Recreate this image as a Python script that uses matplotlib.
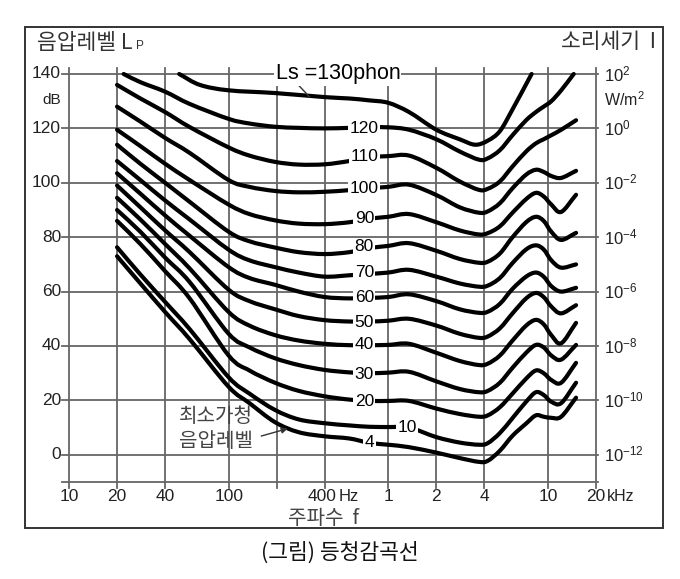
import matplotlib
matplotlib.use("Agg")
import matplotlib.pyplot as plt
from matplotlib.path import Path
from matplotlib.patches import PathPatch
import numpy as np

plt.rcParams['font.family'] = ['Liberation Sans', 'Noto Sans CJK KR', 'DejaVu Sans']
plt.rcParams['mathtext.fontset'] = 'custom'
plt.rcParams['mathtext.rm'] = 'Liberation Sans'
plt.rcParams['mathtext.it'] = 'Liberation Sans'

# ---------------- data ----------------
f_130 = [49, 66, 100, 195, 400, 570, 760, 1000, 1350, 2000, 2800, 3500, 4200, 5000, 6000, 7900]
db_130 = [140, 136, 134, 133, 131.5, 131, 130.3, 129.4, 126, 119.5, 116, 114, 115.5, 119, 127, 140]

f_120 = [22, 28, 40, 57, 100, 135, 195, 275, 400, 570, 760, 1000, 1350, 2000, 2800, 3700, 4200, 5000, 6000, 7300, 8400, 9400, 10500, 12100, 14500]
db_120 = [140, 137, 133.5, 129, 123.5, 121.8, 120.6, 120.2, 120, 120.2, 120.4, 120.4, 119.5, 116, 111.5, 108.5, 109, 112, 117.5, 123, 126, 128, 130, 134, 140]

f_std = [20, 28, 40, 57, 100, 135, 195, 275, 400, 570, 760, 1000, 1350, 2000, 2800, 3700, 4200, 5000, 6000, 7300, 8400, 9400, 10500, 12100, 15000]
db_110 = [136, 131, 126, 120.5, 113, 110, 107.7, 106.7, 106.8, 108, 109.4, 109.8, 110, 105.5, 100.5, 97.4, 97.8, 100.5, 106, 111.5, 114.5, 116, 117.5, 119.5, 123]
db_100 = [128, 122.5, 116.5, 111, 101, 98.5, 97, 96.5, 96.7, 97.3, 98, 98.5, 99.3, 95.5, 91, 89, 89.5, 92.5, 98, 103, 104.8, 104, 102.5, 101.8, 104.4]
db_90 = [119.5, 113.5, 107, 101, 92, 88.5, 86.2, 85, 84.8, 85.5, 86.8, 87.5, 88.5, 85.5, 82.5, 81, 81.5, 84, 89, 94, 96.3, 95, 92, 89.3, 95.6]
db_80 = [114, 107, 100, 93, 82, 78.5, 76.2, 74.5, 73.8, 74.5, 76, 76.8, 77.8, 75, 72, 70.6, 71, 74, 80, 85.5, 87.5, 86, 82, 79, 81.6]
db_70 = [108, 101, 93.5, 86.5, 75.4, 71.5, 69, 67, 65.5, 66, 66.5, 67, 68, 65.5, 63, 61.8, 62.2, 65, 70.5, 75.5, 77, 75.5, 71.5, 68.8, 70]
db_60 = [103.5, 96, 88, 80.5, 69, 65, 62.5, 60, 58, 57.5, 57.7, 58, 59, 56.5, 53.5, 52.2, 52.6, 55.5, 61, 65.5, 67, 65.5, 62, 60, 61.4]
db_50 = [99, 91, 82.5, 74.5, 60.7, 56.5, 53.5, 51, 49.5, 49, 49, 49.3, 50, 47.5, 44.5, 43, 43.5, 46.5, 52, 57.5, 59.5, 58, 54.5, 52, 55]
db_40 = [94.5, 86.5, 77.5, 68.5, 52.5, 47.5, 44, 42, 40.8, 40.3, 40.3, 40.4, 40.8, 37.5, 34.5, 33, 33.5, 36.5, 42, 47.5, 49.6, 48, 44, 41, 48.5]
db_30 = [90, 82, 72.5, 63.5, 44.5, 39.5, 35.5, 33, 31.2, 30.3, 30, 30.2, 30.5, 27, 24.2, 23, 23.5, 26.5, 32, 37.5, 40.4, 39.5, 36.5, 35, 40.4]
db_20 = [86, 77.5, 67.5, 57.5, 36.5, 31, 26.5, 23.5, 21.5, 20.3, 19.8, 19.8, 19.8, 17, 15, 14, 14.5, 17.5, 22.5, 28, 31, 30, 27.5, 26.5, 33.8]
db_10 = [76.3, 66.3, 56.2, 46.2, 28.5, 22.5, 16.5, 13, 11.6, 10.8, 10.3, 10.2, 10, 6.5, 4.5, 3.7, 4.3, 8, 13.5, 19.5, 23, 22, 19.5, 19, 26.5]
db_4 = [73, 63, 52.5, 42.5, 25, 19, 12, 8.3, 6.8, 6, 4.4, 3.7, 2.8, 0.8, -1.2, -2.6, -2.2, 1.5, 7, 11.5, 14.5, 14, 13.6, 14, 21]

phon_labels = ['120', '110', '100', '90', '80', '70', '60', '50', '40', '30', '20']
phon_label_db = [120, 109.6, 98, 87, 76.5, 67, 57.7, 48.8, 40.4, 29.4, 19.6]

y_ticks = [140, 120, 100, 80, 60, 40, 20, 0]
y_right_exp = [2, 0, -2, -4, -6, -8, -10, -12]
x_grid = [10, 20, 40, 100, 200, 400, 1000, 2000, 4000, 10000, 20000]
x_tick_vals = [10, 20, 40, 100, 1000, 2000, 4000, 10000]
x_tick_text = ['10', '20', '40', '100', '1', '2', '4', '10']

# ---------------- figure ----------------
W, H = 680, 579
fig = plt.figure(figsize=(W / 100, H / 100), dpi=100)
fig.patch.set_facecolor('white')


def fx(px):
    return px / W


def fy(py):
    return 1 - py / H


def fpx(px):
    """frequency at a horizontal pixel position of the reference grid"""
    return 10 * 10 ** ((px - 69) / 160)


ax = fig.add_axes([fx(69), fy(482), fx(596) - fx(69), fy(74) - fy(482)])
ax.set_xscale('log')
ax.set_xlim(10, 20000)
ax.set_ylim(-10, 140)
ax.axis('off')

gcol = '#666666'
glw = 1.3
xl0, xl1 = fpx(62), fpx(599)
for yv in y_ticks + [-10]:
    ax.plot([xl0, xl1], [yv, yv], color=gcol, lw=glw, clip_on=False, zorder=1)
for xv in x_grid:
    ax.plot([xv, xv], [-10 - 6 / 2.72, 140 + 6 / 2.72], color=gcol, lw=glw, clip_on=False, zorder=1)


def smooth_path(fr, dbv):
    """Catmull-Rom through the read points, drawn as cubic Bezier segments."""
    lx = np.log10(np.asarray(fr, float))
    yy = np.asarray(dbv, float)
    P = np.column_stack([lx, yy])
    P = np.vstack([P[0] - (P[1] - P[0]), P, P[-1] + (P[-1] - P[-2])])
    verts = [P[1]]
    codes = [Path.MOVETO]
    for i in range(1, len(P) - 2):
        c1 = P[i] + (P[i + 1] - P[i - 1]) / 6.0
        c2 = P[i + 1] - (P[i + 2] - P[i]) / 6.0
        verts += [c1, c2, P[i + 1]]
        codes += [Path.CURVE4] * 3
    verts = np.array(verts)
    verts[:, 0] = 10 ** verts[:, 0]
    return Path(verts, codes)


curves = [(f_130, db_130), (f_120, db_120), (f_std, db_110), (f_std, db_100), (f_std, db_90),
          (f_std, db_80), (f_std, db_70), (f_std, db_60), (f_std, db_50), (f_std, db_40),
          (f_std, db_30), (f_std, db_20), (f_std, db_10), (f_std, db_4)]
for fr, dbv in curves:
    patch = PathPatch(smooth_path(fr, dbv), fill=False, ec='black', lw=3.0,
                      capstyle='round', joinstyle='round', clip_on=False, zorder=3)
    ax.add_patch(patch)

# phon labels
for t, v in zip(phon_labels, phon_label_db):
    ax.text(fpx(365), v, t, fontsize=12.5, ha='center', va='center', color='black', zorder=5,
            bbox=dict(boxstyle='square,pad=0.08', fc='white', ec='none'))
ax.text(fpx(408), 10, '10', fontsize=12.5, ha='center', va='center', zorder=5,
        bbox=dict(boxstyle='square,pad=0.08', fc='white', ec='none'))
ax.text(fpx(370), 4.4, '4', fontsize=12.5, ha='center', va='center', zorder=5,
        bbox=dict(boxstyle='square,pad=0.1', fc='white', ec='none'))

# Ls = 130 phon label
ax.text(fpx(276), 140, 'Ls =130phon', fontsize=15.5, ha='left', va='center',
        zorder=5, bbox=dict(boxstyle='square,pad=0.05', fc='white', ec='none'))
ax.plot([fpx(298), fpx(310)], [136.3, 131.6], color='#333333', lw=1.0, zorder=4)

# left tick labels
for v in y_ticks:
    ax.text(fpx(61), v, str(v), fontsize=12.5, ha='right', va='center', color='#222222')
ax.text(fpx(61), 130.5, 'dB', fontsize=11, ha='right', va='center', color='#222222')

# right tick labels
for v, e in zip(y_ticks, y_right_exp):
    ax.text(fpx(605), v, r'$10^{%d}$' % e, fontsize=12, ha='left', va='center', color='#222222')
ax.text(fpx(605), 130.5, r'W/m$^{2}$', fontsize=11.5, ha='left', va='center', color='#222222')

# bottom tick labels
ylab = -15.5
for v, t in zip(x_tick_vals, x_tick_text):
    ax.text(v, ylab, t, fontsize=12.5, ha='center', va='center', color='#222222')
ax.text(fpx(337), ylab, '400', fontsize=12.5, ha='right', va='center', color='#222222')
ax.text(fpx(339), ylab, 'Hz', fontsize=12, ha='left', va='center', color='#222222')
ax.text(20000, ylab, '20', fontsize=12.5, ha='center', va='center', color='#222222')
ax.text(fpx(608), ylab, 'kHz', fontsize=11.5, ha='left', va='center', color='#222222')

# threshold annotation
kfam = ['Noto Sans CJK KR']
ax.text(fpx(216), (455 - 417) / 2.72, '최소가청', fontsize=14.5, ha='center',
        va='center', color='#444444', family=kfam)
ax.text(fpx(216), (455 - 442) / 2.72, '음압레벨', fontsize=14.5, ha='center',
        va='center', color='#444444', family=kfam)
ax.annotate('', xy=(fpx(291), (455 - 428) / 2.72), xytext=(fpx(259), (455 - 437) / 2.72),
            arrowprops=dict(arrowstyle='-|>', color='#333333', lw=1.0, mutation_scale=9))

# texts in figure coords
fig.text(fx(37), fy(43), '음압레벨 L', fontsize=15.5, ha='left', va='center', color='#333333',
         family=['Noto Sans CJK KR', 'Liberation Sans'])
fig.text(fx(136), fy(46), 'P', fontsize=8.5, ha='left', va='center', color='#333333')
fig.text(fx(656), fy(42), '소리세기  I', fontsize=15.5, ha='right', va='center', color='#333333',
         family=['Noto Sans CJK KR', 'Liberation Sans'])
fig.text(fx(323), fy(519), '주파수  f', fontsize=14.5, ha='center', va='center', color='#444444',
         family=['Noto Sans CJK KR', 'Liberation Sans'])
fig.text(fx(340), fy(553), '(그림) 등청감곡선', fontsize=15.5, ha='center', va='center', color='#111111',
         family=['Noto Sans CJK KR', 'Liberation Sans'])

# outer frame
frame = plt.Rectangle((fx(25), fy(528)), fx(663) - fx(25), fy(27) - fy(528), transform=fig.transFigure,
                      fill=False, ec='#333333', lw=1.4)
fig.patches.append(frame)

fig.savefig('out.png', dpi=100, facecolor='white')
